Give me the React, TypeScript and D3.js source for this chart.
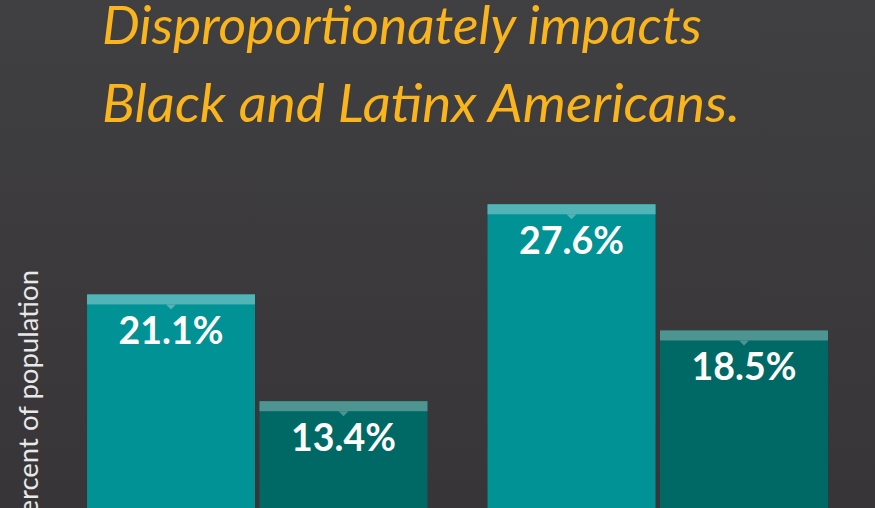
import React from "react";
import * as d3 from "d3";

const groups = ["Black Americans", "Latinx Americans"];
const series = ["Group A", "Group B"];
const valuesA = [21.1, 27.6];
const valuesB = [13.4, 18.5];
const titleLines = ["Disproportionately impacts", "Black and Latinx Americans."];
const yLabel = "Percent of population";

const W = 875;
const H = 508;

export default function App() {
  const x0 = d3.scaleBand<string>().domain(groups).range([57, 858]).paddingInner(0.15).paddingOuter(0.075);
  const x1 = d3.scaleBand<string>().domain(series).range([0, x0.bandwidth()]).paddingInner(0.026).paddingOuter(0);
  const y = d3.scaleLinear().domain([0, 30]).range([587, 171]);

  const fills = ["#009295", "#006966"];
  const caps = ["#52b4b6", "#4e9592"];
  const capH = 10;

  const data = groups.flatMap((g, gi) => [
    { g, s: series[0], v: valuesA[gi], si: 0 },
    { g, s: series[1], v: valuesB[gi], si: 1 },
  ]);

  return (
    <svg width={W} height={H} style={{ position: "absolute", left: 0, top: 0 }}>
      <defs>
        <linearGradient id="bg" x1="0" y1="0" x2="0" y2="1">
          <stop offset="0" stopColor="#403f41" />
          <stop offset="1" stopColor="#373537" />
        </linearGradient>
      </defs>
      <rect x={0} y={0} width={W} height={H} fill="url(#bg)" />
      {titleLines.map((t, i) => (
        <text
          key={i}
          x={102}
          y={i === 0 ? 44 : 122}
          fill="#f9b51b"
          fontFamily="Lato, sans-serif"
          fontStyle="italic"
          fontWeight={400}
          fontSize={53}
          textLength={i === 0 ? 600 : 638}
          lengthAdjust="spacingAndGlyphs"
        >
          {t}
        </text>
      ))}
      {data.map((d, i) => {
        const bx = (x0(d.g) as number) + (x1(d.s) as number);
        const bw = x1.bandwidth();
        const top = y(d.v);
        const base = y(0);
        const cx = bx + bw / 2;
        return (
          <g key={i}>
            <rect x={bx} y={top} width={bw} height={base - top} fill={fills[d.si]} />
            <rect x={bx} y={top} width={bw} height={capH} fill={caps[d.si]} />
            <path d={`M${cx - 5},${top + capH} L${cx + 5},${top + capH} L${cx},${top + capH + 5} Z`} fill={caps[d.si]} />
            <text
              x={cx}
              y={top + 50}
              textAnchor="middle"
              fill="#ffffff"
              fontFamily="Lato, sans-serif"
              fontWeight={700}
              fontSize={37.5}
            >
              {d.v.toFixed(1)}%
            </text>
          </g>
        );
      })}
      <text
        transform={`translate(38,270) rotate(-90)`}
        textAnchor="end"
        fill="#e8e8e8"
        fontFamily="Lato, sans-serif"
        fontSize={27.5}
      >
        {yLabel}
      </text>
    </svg>
  );
}
